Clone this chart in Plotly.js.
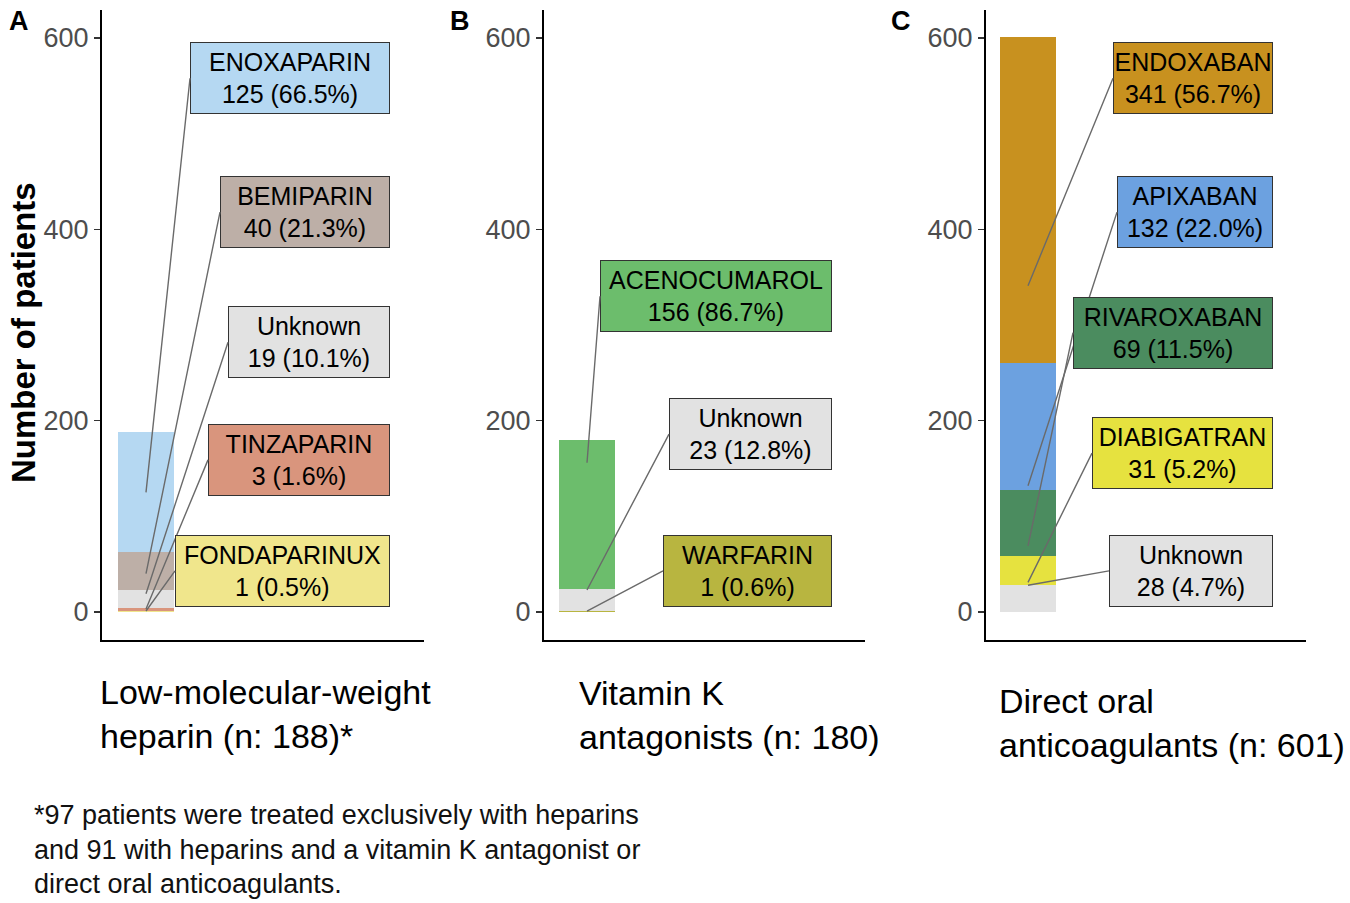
<!DOCTYPE html>
<html>
<head>
<meta charset="utf-8">
<script src="https://cdn.plot.ly/plotly-3.0.1.min.js"></script>
<style>html,body{margin:0;padding:0;background:#fff;}</style>
</head>
<body>
<div id="chart" style="width:1350px;height:903px;"></div>
<script>
// ---------------- DATA ----------------
const panelLetters = ['A', 'B', 'C'];
const groupNames = [
  'Low-molecular-weight heparin (n: 188)*',
  'Vitamin K antagonists (n: 180)',
  'Direct oral anticoagulants (n: 601)'
];
const groupLabelLines = [
  ['Low-molecular-weight', 'heparin (n: 188)*'],
  ['Vitamin K', 'antagonists (n: 180)'],
  ['Direct oral', 'anticoagulants (n: 601)']
];
const groupTotals = [188, 180, 601];

// drugs listed from top of the stack to the bottom
const lmwhDrugs = ['ENOXAPARIN', 'BEMIPARIN', 'Unknown', 'TINZAPARIN', 'FONDAPARINUX'];
const lmwhCounts = [125, 40, 19, 3, 1];

const vkaDrugs = ['ACENOCUMAROL', 'Unknown', 'WARFARIN'];
const vkaCounts = [156, 23, 1];

const doacDrugs = ['ENDOXABAN', 'APIXABAN', 'RIVAROXABAN', 'DIABIGATRAN', 'Unknown'];
const doacCounts = [341, 132, 69, 31, 28];

const yTickValues = [0, 200, 400, 600];
const yAxisTitle = 'Number of patients';
const footnoteLines = [
  '*97 patients were treated exclusively with heparins',
  'and 91 with heparins and a vitamin K antagonist or',
  'direct oral anticoagulants.'
];

// ---------------- STYLE / LAYOUT ----------------
const drugColors = [
  ['#b5d8f2', '#bdafa7', '#e2e2e2', '#d9957d', '#f0e68c'],
  ['#6cbd6c', '#e2e2e2', '#b8b540'],
  ['#c8911f', '#6ca1e0', '#4b8c5f', '#e6e23f', '#e2e2e2']
];
// label boxes: left edge offset (px from bar centre), right edge offset, vertical centre (axis units)
const labelBoxes = [
  {left: [44, 74, 82, 62, 29], right: 244, centre: [558, 418, 282, 159, 43]},
  {left: [13, 82, 76], right: 245, centre: [330, 186, 43]},
  {left: [85, 89, 45, 64, 81], right: 245, centre: [558, 418, 292, 166, 43]}
];
const W = 1350, H = 903;
const axisPx = [[102, 424, 146], [544, 865, 587], [986, 1306, 1028]]; // left, right, bar centre
const plotTopPx = 10, plotBottomPx = 640;
const barPx = 56;
const FONT = '"Liberation Sans", Arial, Helvetica, sans-serif';

const panels = [
  {drugs: lmwhDrugs, counts: lmwhCounts},
  {drugs: vkaDrugs, counts: vkaCounts},
  {drugs: doacDrugs, counts: doacCounts}
];

const traces = [];
const annotations = [];
const layout = {
  width: W, height: H,
  margin: {l: 0, r: 0, t: 0, b: 0},
  paper_bgcolor: '#ffffff', plot_bgcolor: '#ffffff',
  showlegend: false, barmode: 'stack', bargap: 0,
  font: {family: FONT, color: '#000'},
  annotations: annotations
};

panels.forEach((p, pi) => {
  const sfx = pi === 0 ? '' : String(pi + 1);
  const xa = 'x' + sfx, ya = 'y' + sfx;
  const cat = groupNames[pi];
  // stack from bottom up
  for (let i = p.drugs.length - 1; i >= 0; i--) {
    traces.push({
      type: 'bar', x: [cat], y: [p.counts[i]], width: [1],
      name: p.drugs[i], xaxis: xa, yaxis: ya,
      marker: {color: drugColors[pi][i], line: {width: 0}},
      hoverinfo: 'skip'
    });
  }
  const [lpx, rpx, cpx] = axisPx[pi];
  const r0 = -(cpx - lpx) / barPx;
  const r1 = r0 + (rpx - lpx) / barPx;
  layout['xaxis' + sfx] = {
    domain: [lpx / W, rpx / W], anchor: ya, type: 'category',
    range: [r0, r1], showline: true, linecolor: '#000', linewidth: 2,
    showticklabels: false, ticks: '', showgrid: false, zeroline: false, fixedrange: true
  };
  layout['yaxis' + sfx] = {
    domain: [1 - plotBottomPx / H, 1 - plotTopPx / H], anchor: xa,
    range: [-29.3, 629.3], tickvals: yTickValues, ticktext: yTickValues.map(String),
    ticks: 'outside', ticklen: 6, tickwidth: 1.5, tickcolor: '#333',
    tickfont: {family: FONT, size: 27, color: '#4d4d4d'},
    showline: true, linecolor: '#000', linewidth: 2, showgrid: false, zeroline: false,
    fixedrange: true
  };
  // labels with leader lines
  const lb = labelBoxes[pi];
  p.drugs.forEach((d, i) => {
    const pct = (100 * p.counts[i] / groupTotals[pi]).toFixed(1);
    annotations.push({
      xref: xa, yref: ya, x: cat, y: p.counts[i],
      axref: 'pixel', ayref: ya, ax: lb.left[i], ay: lb.centre[i],
      xanchor: 'left', yanchor: 'middle', align: 'center',
      text: d + '<br>' + p.counts[i] + ' (' + pct + '%)',
      showarrow: true, arrowhead: 0, arrowwidth: 1.4, arrowcolor: '#6a6a6a',
      bgcolor: drugColors[pi][i], bordercolor: '#333', borderwidth: 1, borderpad: 2,
      width: lb.right - lb.left[i] - 6, height: 66,
      font: {family: FONT, size: 25, color: '#000'}
    });
  });
});

const labelLeftPx = [98, 577, 997];
const labelLineCentres = [[692, 736], [693, 737], [701, 745]];
const letterCentres = [[19, 21], [460, 21], [901, 21]];
panelLetters.forEach((L, pi) => {
  annotations.push({
    xref: 'paper', yref: 'paper', x: letterCentres[pi][0] / W, y: 1 - letterCentres[pi][1] / H,
    xanchor: 'center', yanchor: 'middle', showarrow: false,
    text: '<b>' + L + '</b>', font: {family: FONT, size: 27, color: '#000'}
  });
  groupLabelLines[pi].forEach((line, li) => {
    annotations.push({
      xref: 'paper', yref: 'paper', x: labelLeftPx[pi] / W, y: 1 - labelLineCentres[pi][li] / H,
      xanchor: 'left', yanchor: 'middle', showarrow: false,
      text: line, font: {family: FONT, size: 34, color: '#000'}
    });
  });
});

annotations.push({
  xref: 'paper', yref: 'paper', x: 23 / W, y: 1 - 333 / H,
  xanchor: 'center', yanchor: 'middle', showarrow: false, textangle: -90,
  text: '<b>' + yAxisTitle + '</b>', font: {family: FONT, size: 33, color: '#000'}
});

const footCentres = [815, 850, 884];
footnoteLines.forEach((line, li) => {
  annotations.push({
    xref: 'paper', yref: 'paper', x: 32 / W, y: 1 - footCentres[li] / H,
    xanchor: 'left', yanchor: 'middle', showarrow: false,
    text: line, font: {family: FONT, size: 27, color: '#111'}
  });
});

Plotly.newPlot('chart', traces, layout, {displayModeBar: false, staticPlot: true});
</script>
</body>
</html>
